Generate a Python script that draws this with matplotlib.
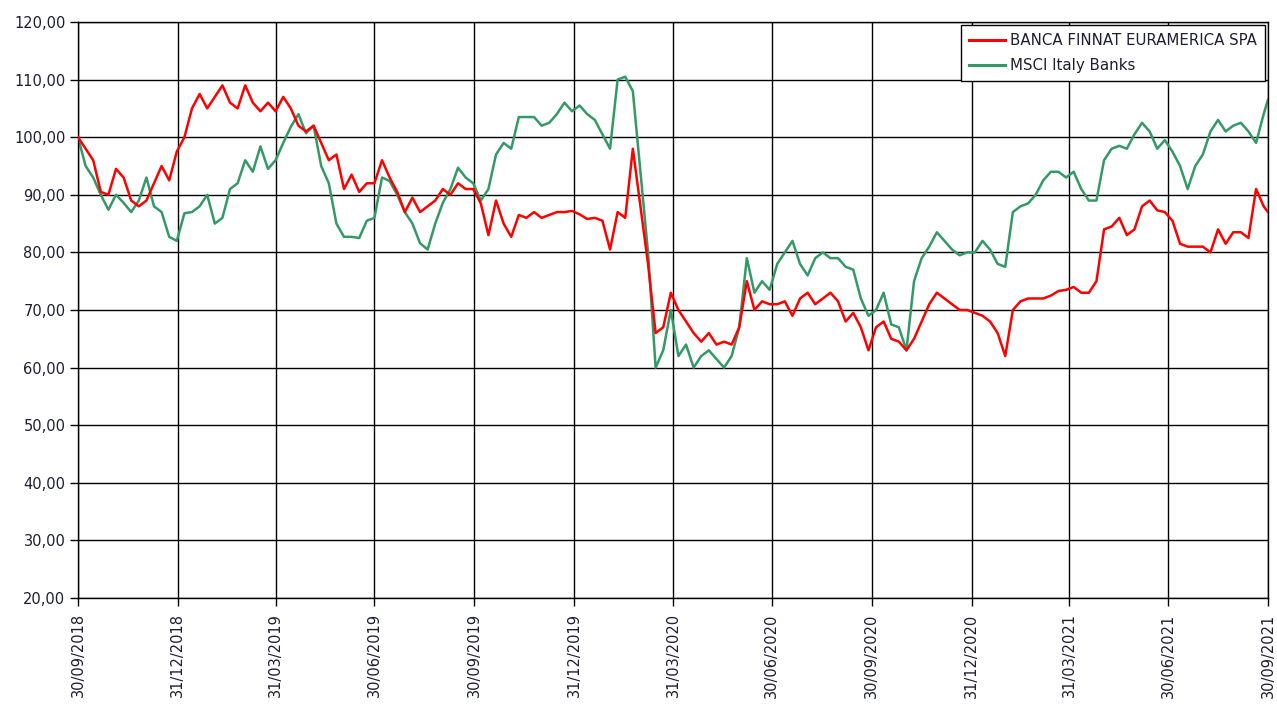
import matplotlib
matplotlib.use("Agg")
import matplotlib.pyplot as plt
import matplotlib.dates as mdates
import matplotlib.ticker as mticker
import pandas as pd

start_date = "2018-09-30"
end_date = "2021-09-30"

series_names = ["BANCA FINNAT EURAMERICA SPA", "MSCI Italy Banks"]

banca_finnat = [
    100, 98, 96, 90.5, 90, 94.5, 93, 89, 88, 89, 92, 95, 92.5, 97.5,
    100, 105, 107.5, 105, 107, 109, 106, 105, 109, 106, 104.5, 106, 104.5,
    107, 105, 102, 101, 102, 99, 96, 97, 91, 93.5, 90.5, 92, 92,
    96, 93, 90.5, 87, 89.5, 87, 88, 89, 91, 90, 92, 91, 91,
    88.5, 83, 89, 85, 82.7, 86.5, 86, 87, 86, 86.5, 87, 87, 87.2,
    86.6, 85.8, 86, 85.5, 80.5, 87, 86, 98, 88, 78, 66, 67, 73,
    70, 68, 66, 64.5, 66, 64, 64.5, 64, 67, 75, 70, 71.5, 71,
    71, 71.5, 69, 72, 73, 71, 72, 73, 71.5, 68, 69.5, 67, 63,
    67, 68, 65, 64.5, 63, 65, 68, 71, 73, 72, 71, 70, 70,
    69.5, 69, 68, 66, 62, 70, 71.5, 72, 72, 72, 72.5, 73.3, 73.5,
    74, 73, 73, 75, 84, 84.5, 86, 83, 84, 88, 89, 87.3, 87,
    85.5, 81.5, 81, 81, 81, 80, 84, 81.5, 83.5, 83.5, 82.5, 91, 88,
    87,
]

msci_italy_banks = [
    100, 95, 93, 90, 87.4, 90, 88.6, 87, 89, 93, 88, 87, 82.7, 82,
    86.8, 87, 88, 90, 85, 86, 91, 92, 96, 94, 98.4, 94.5, 96,
    99, 101.8, 104, 100.7, 102, 95, 92, 85, 82.7, 82.7, 82.5, 85.5, 86,
    93, 92.4, 90, 87, 85, 81.6, 80.5, 85, 88.6, 91, 94.7, 93, 92,
    89, 91, 97, 99, 98, 103.5, 103.5, 103.5, 102, 102.5, 104, 106, 104.5,
    105.5, 104, 103, 100.5, 98, 110, 110.5, 108, 94, 80, 60, 63, 70,
    62, 64, 60, 62, 63, 61.5, 60, 62, 67, 79, 73, 75, 73.5,
    78, 80, 82, 78, 76, 79, 80, 79, 79, 77.5, 77, 72, 69,
    70, 73, 67.5, 67, 63, 75, 79, 81, 83.5, 82, 80.5, 79.5, 80,
    80, 82, 80.5, 78, 77.5, 87, 88, 88.5, 90, 92.5, 94, 94, 93,
    94, 91, 89, 89, 96, 98, 98.5, 98, 100.5, 102.5, 101, 98, 99.5,
    97.5, 95, 91, 95, 97, 101, 103, 101, 102, 102.5, 101, 99, 104,
    106.5,
]

tick_dates = [
    "2018-09-30", "2018-12-31", "2019-03-31", "2019-06-30", "2019-09-30",
    "2019-12-31", "2020-03-31", "2020-06-30", "2020-09-30", "2020-12-31",
    "2021-03-31", "2021-06-30", "2021-09-30",
]
y_ticks = [20, 30, 40, 50, 60, 70, 80, 90, 100, 110, 120]

dates = list(pd.date_range(start_date, periods=len(banca_finnat) - 1, freq="7D"))
dates.append(pd.Timestamp(end_date))

text_color = "#1e1e32"

fig = plt.figure(figsize=(12.77, 7.04), dpi=100)
ax = fig.add_axes([78 / 1277, 1 - 598 / 704, (1268 - 78) / 1277, (598 - 22) / 704])

ax.plot(dates, banca_finnat, color="#ff0000", linewidth=1.8, label=series_names[0], zorder=3)
ax.plot(dates, msci_italy_banks, color="#339966", linewidth=1.8, label=series_names[1], zorder=2)

ax.set_xlim(pd.Timestamp(start_date), pd.Timestamp(end_date))
ax.set_ylim(20, 120)
ax.set_yticks(y_ticks)
ax.yaxis.set_major_formatter(mticker.FuncFormatter(lambda v, p: f"{v:.2f}".replace(".", ",")))
ax.set_xticks([pd.Timestamp(d) for d in tick_dates])
ax.xaxis.set_major_formatter(mdates.DateFormatter("%d/%m/%Y"))

ax.grid(True, color="black", linewidth=1.0)
ax.set_axisbelow(True)
for sp in ax.spines.values():
    sp.set_color("black")
    sp.set_linewidth(1.0)

ax.tick_params(axis="y", length=6, width=1, color="black", labelsize=10.5, labelcolor=text_color, pad=3)
ax.tick_params(axis="x", length=6, width=1, color="black", labelsize=10.5, labelcolor=text_color,
               labelrotation=90, pad=5)

leg = ax.legend(loc="upper right", fontsize=10.8, frameon=True, fancybox=False, framealpha=1,
                edgecolor="black", handlelength=2.4, handletextpad=0.3, borderpad=0.55,
                borderaxespad=0.2, labelspacing=0.65)
leg.get_frame().set_linewidth(1.0)
for t in leg.get_texts():
    t.set_color(text_color)
for h in leg.get_lines():
    h.set_linewidth(2.2)

fig.savefig("out.png", dpi=100, facecolor="white")
